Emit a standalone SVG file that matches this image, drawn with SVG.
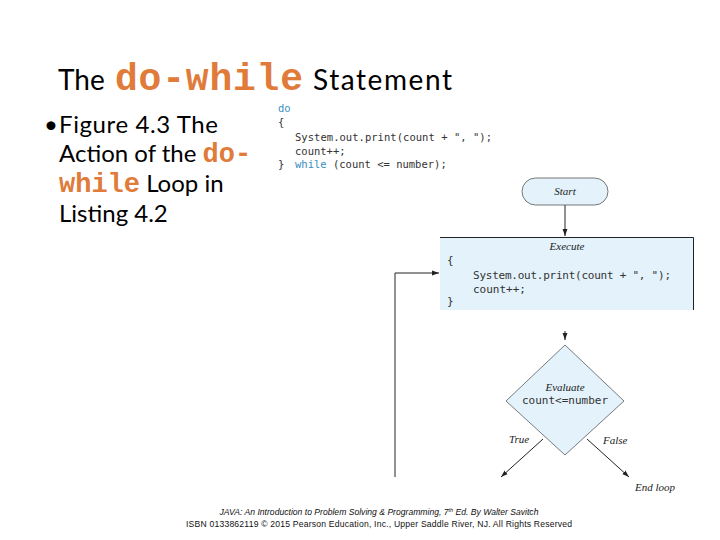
<svg xmlns="http://www.w3.org/2000/svg" width="720" height="540" viewBox="0 0 720 540">
<style>
.t{font-family:Lato,"Open Sans","Liberation Sans",sans-serif;fill:#000}
.kw{font-family:"Liberation Mono","Courier New",monospace;font-weight:bold;fill:#E07B3A}
.code{font-family:"DejaVu Sans Mono",monospace;fill:#333}
.teal{fill:#3A8FBF}
.it{font-family:"Liberation Serif","Times New Roman",serif;font-style:italic;fill:#222;font-size:11px}
.ln{stroke:#222;stroke-width:1;fill:none}
.foot{font-family:"Liberation Sans",Arial,sans-serif;font-size:8.6px;fill:#111}
</style>
<defs>
<marker id="ah" viewBox="0 0 10 10" refX="10" refY="5" markerWidth="7" markerHeight="7" orient="auto" markerUnits="userSpaceOnUse">
<path d="M0,1.5 L10,5 L0,8.5 z" fill="#222"/>
</marker>
</defs>
<rect width="720" height="540" fill="#fff"/>
<g id="title">
<text x="58" y="90" class="t" font-size="28">The</text>
<text x="115" y="90" class="kw" font-size="38" textLength="188">do-while</text>
<text x="313" y="90" class="t" font-size="28" textLength="139">Statement</text>
</g>
<g id="bullet" font-size="24">
<text x="44" y="133" class="t">•</text>
<text x="59" y="133" class="t" textLength="159">Figure 4.3 The</text>
<text x="59" y="162" class="t">Action of the <tspan class="kw" font-size="27">do-</tspan></text>
<text x="59" y="192" class="t"><tspan class="kw" font-size="27">while</tspan> Loop in</text>
<text x="59" y="222" class="t">Listing 4.2</text>
</g>
<g id="listing" font-size="10.5">
<text x="278" y="112" class="code teal">do</text>
<text x="278" y="126" class="code">{</text>
<text x="295" y="141" class="code" textLength="197">System.out.print(count + ", ");</text>
<text x="295" y="155" class="code">count++;</text>
<text x="278" y="168" class="code">} <tspan x="295" class="teal">while</tspan> (count &lt;= number);</text>
</g>
<g id="connectors">
<line x1="565" y1="205" x2="565" y2="236" class="ln" marker-end="url(#ah)"/>
<path d="M565,331 L565,340" class="ln" marker-end="url(#ah)"/>
<polyline points="395,477 395,273 439,273" class="ln" stroke-width="1.5" marker-end="url(#ah)"/>
<line x1="543" y1="439" x2="501" y2="477" class="ln" stroke-width="0.7" marker-end="url(#ah)"/>
<line x1="587" y1="439" x2="629" y2="477" class="ln" stroke-width="0.7" marker-end="url(#ah)"/>
</g>
<g id="start">
<rect x="522" y="178" width="86" height="27" rx="13.5" fill="#E3F2FB" stroke="#555" stroke-width="0.8"/>
<text x="565" y="195" class="it" text-anchor="middle">Start</text>
</g>
<g id="execute">
<rect x="440" y="237" width="253" height="73" fill="#E3F2FB"/>
<path d="M440,237.5 L693.5,237.5 L693.5,310" class="ln"/>
<text x="567" y="250" class="it" text-anchor="middle">Execute</text>
<g font-size="11">
<text x="447" y="264" class="code">{</text>
<text x="473" y="279" class="code" textLength="198">System.out.print(count + ", ");</text>
<text x="473" y="293" class="code">count++;</text>
<text x="447" y="305" class="code">}</text>
</g>
</g>
<g id="evaluate">
<polygon points="565,345 624,401 565,455 506,401" fill="#E3F2FB" stroke="#444" stroke-width="0.7"/>
<text x="565" y="391" class="it" text-anchor="middle">Evaluate</text>
<text x="565" y="404" class="code" font-size="11" text-anchor="middle">count&lt;=number</text>
</g>
<g id="labels">
<text x="509" y="443" class="it">True</text>
<text x="603" y="444" class="it">False</text>
<text x="635" y="491" class="it">End loop</text>
</g>
<g id="footer">
<text x="379" y="515" class="foot" font-style="italic" text-anchor="middle">JAVA: An Introduction to Problem Solving &amp; Programming, 7<tspan font-size="5.5" dy="-3">th</tspan><tspan dy="3"> Ed. By Walter Savitch</tspan></text>
<text x="379" y="527" class="foot" text-anchor="middle" textLength="386">ISBN 0133862119 © 2015 Pearson Education, Inc., Upper Saddle River, NJ. All Rights Reserved</text>
</g>
</svg>
